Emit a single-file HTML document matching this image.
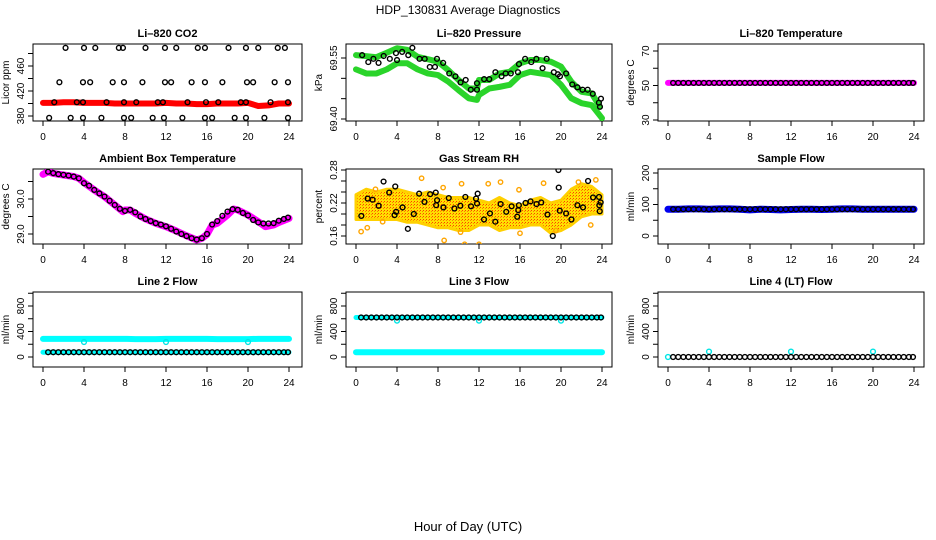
<!DOCTYPE html>
<html><head><meta charset="utf-8"><style>
html,body{margin:0;padding:0;background:#fff}
svg{display:block;font-family:"Liberation Sans",Arial,sans-serif}
</style></head><body>
<svg id="chart" width="936" height="540" viewBox="0 0 936 540" xmlns="http://www.w3.org/2000/svg">
<defs>
<pattern id="rhpat" width="3" height="3" patternUnits="userSpaceOnUse">
<rect width="3" height="3" fill="#ffe000"></rect><rect x="0" y="0" width="1" height="1" fill="#ff4000"></rect><rect x="2" y="1" width="1" height="1" fill="#ff8000"></rect>
</pattern>
</defs>
<text x="468" y="14" text-anchor="middle" font-size="12">HDP_130831  Average Diagnostics</text>
<text x="468" y="531" text-anchor="middle" font-size="13">Hour of Day (UTC)</text>
</svg>
<script>
const H48=[0.5,1,1.5,2,2.5,3,3.5,4,4.5,5,5.5,6,6.5,7,7.5,8,8.5,9,9.5,10,10.5,11,11.5,12,12.5,13,13.5,14,14.5,15,15.5,16,16.5,17,17.5,18,18.5,19,19.5,20,20.5,21,21.5,22,22.5,23,23.5,23.9];
const H25=[0,1,2,3,4,5,6,7,8,9,10,11,12,13,14,15,16,17,18,19,20,21,22,23,24];
// CO2
const co2Line=[401,401,402,402,401,401,401,400,400,400,400,400,401,400,400,399,399,400,400,400,401,396,397,400,400];
const co2TopX=[2.2,4,5.1,7.4,7.8,10,11.9,13,15.1,15.8,18.1,19.8,21,22.9,23.6];
const co2MidX=[1.6,3.9,4.6,6.8,7.9,9.7,11.9,12.5,14.5,15.8,17.5,19.9,20.5,22.6,23.9];
const co2LineX=[1.1,3.3,3.9,6.2,7.9,9.1,11.2,11.7,14.1,15.9,17.1,19.3,19.8,22.2,23.9];
const co2BotX=[0.6,2.7,3.9,5.7,7.9,8.6,10.7,11.8,13.6,15.8,16.5,18.7,19.8,21.6,23.9];
const co2Levels=[489,434,402,377];
// Pressure
const presAX=[0,2,4,5,6,7,8,9,10,11,11.8,12,13,14,15,16,17,18,19,20,21,22,23,23.8];
const presA=[69.557,69.552,69.574,69.570,69.553,69.547,69.541,69.520,69.496,69.475,69.475,69.496,69.496,69.512,69.516,69.537,69.545,69.545,69.541,69.529,69.492,69.467,69.463,69.430];
const presBX=[0,1,2,3,4,5,6,7,8,9,10,11,11.8,12,13,14,15,16,17,18,19,20,21,22,23,24];
const presB=[69.522,69.512,69.512,69.522,69.537,69.537,69.522,69.512,69.508,69.492,69.471,69.451,69.447,69.459,69.475,69.479,69.484,69.508,69.516,69.512,69.508,69.484,69.451,69.439,69.434,69.402];
const presCX=[0.6,1.2,1.7,2.2,2.7,3.3,3.9,4,4.5,5.1,5.5,6.2,6.7,7.2,7.7,7.9,8.5,9.1,9.7,10.2,10.7,11.2,11.8,11.8,12.5,13,13.6,14.2,14.6,15.1,15.8,15.9,16.5,17.1,17.6,18.2,18.6,19.3,19.7,19.9,20.5,21.1,21.6,22.1,22.6,23.1,23.7,23.8,23.9];
const presC=[69.557,69.54,69.548,69.538,69.555,69.548,69.562,69.545,69.565,69.557,69.575,69.548,69.548,69.528,69.528,69.548,69.538,69.512,69.505,69.49,69.496,69.472,69.472,69.488,69.498,69.498,69.515,69.505,69.512,69.512,69.515,69.535,69.548,69.54,69.548,69.525,69.548,69.515,69.51,69.505,69.512,69.485,69.478,69.472,69.472,69.462,69.44,69.43,69.45];
// Li-820 temperature
const liTempLine=[51.5,51.5,51.5,51.5,51.5,51.5,51.5,51.5,51.5,51.5,51.5,51.5,51.5,51.5,51.5,51.5,51.5,51.5,51.5,51.5,51.5,51.5,51.5,51.5,51.5];
// Ambient
const ambX=[0,0.5,1,2,3,3.5,4,5,6,7,7.8,8,8.5,9,10,11,12,13,14,15,15.5,16,16.5,17,18,18.6,19,20,21,21.7,22.5,23,24];
const amb=[30.705,30.78,30.73,30.686,30.64,30.59,30.47,30.257,30.067,29.83,29.64,29.686,29.686,29.59,29.43,29.305,29.21,29.086,28.95,28.83,28.876,28.99,29.257,29.305,29.543,29.714,29.686,29.543,29.352,29.21,29.257,29.33,29.447];
const ambC=[30.78,30.74,30.71,30.69,30.67,30.64,30.59,30.45,30.38,30.26,30.16,30.07,29.95,29.83,29.72,29.66,29.69,29.62,29.50,29.43,29.37,29.31,29.27,29.22,29.15,29.07,29.00,28.94,28.88,28.84,28.88,29.00,29.27,29.37,29.52,29.64,29.71,29.69,29.60,29.53,29.40,29.33,29.30,29.30,29.31,29.38,29.43,29.47];
// RH
const rhUp=[0.235,0.245,0.24,0.245,0.245,0.24,0.235,0.24,0.235,0.23,0.23,0.23,0.225,0.22,0.23,0.22,0.215,0.225,0.23,0.22,0.225,0.245,0.255,0.25,0.235];
const rhLo=[0.19,0.19,0.19,0.19,0.19,0.185,0.185,0.18,0.175,0.175,0.17,0.17,0.18,0.18,0.17,0.175,0.175,0.18,0.18,0.165,0.17,0.18,0.195,0.2,0.2];
const rhOutX=[0.5,1.1,1.9,2.6,6.4,8.5,8.6,10.2,10.3,10.6,12,12.9,14.1,15.9,16,18.3,19.5,21.7,22.9,23.4];
const rhOut=[0.168,0.175,0.245,0.186,0.265,0.248,0.152,0.167,0.255,0.145,0.145,0.255,0.258,0.244,0.165,0.256,0.17,0.258,0.18,0.262];
const rhX=[0.52,1.14,1.62,2.21,2.69,3.24,3.76,3.83,3.92,4.54,5.06,5.64,6.16,6.68,7.23,7.78,7.82,7.91,8.53,9.05,9.60,10.18,10.67,11.22,11.71,11.81,11.87,12.49,13.07,13.59,14.11,14.66,15.18,15.73,15.83,15.89,16.54,17.03,17.61,18.07,18.68,19.2,19.75,19.78,19.88,20.50,21.02,21.60,22.15,22.64,23.13,23.71,23.74,23.78,23.87];
const rhV=[0.1965,0.228,0.226,0.215,0.259,0.239,0.198,0.250,0.204,0.212,0.173,0.200,0.237,0.222,0.236,0.239,0.216,0.225,0.212,0.229,0.210,0.215,0.231,0.214,0.228,0.219,0.237,0.190,0.201,0.186,0.218,0.204,0.214,0.195,0.207,0.216,0.220,0.223,0.218,0.221,0.199,0.160,0.280,0.248,0.206,0.201,0.190,0.216,0.212,0.260,0.230,0.231,0.216,0.205,0.221];
// Flows
const sampleFlow=[85,85,86,86,85,86,86,85,83,85,84,83,84,85,85,84,85,86,86,85,85,85,85,85,85];
const sampleC=85;
const l2Hi=[285,285,285,285,285,285,285,285,285,280,280,280,285,285,285,285,285,280,280,280,280,285,285,285,285];
const l2Lo=75, l2DipX=[4,12,20], l2Dip=[235,235,235];
const l3Hi=620, l3Lo=75, l3DipX=[4,12,20], l3Dip=[570,570,570];
const l4Base=0, l4SpikeX=[4,12,20], l4Spike=[85,85,85];

const svg=document.getElementById('chart');
const NS='http://www.w3.org/2000/svg';
const cols=[{l:33,r:302,x0:43,x24:289},{l:346,r:612,x0:356,x24:602},{l:658,r:924,x0:668,x24:914}];
const rows=[{t:44,b:121},{t:169,b:244},{t:292,b:367}];
function mk(tag,at,parent){const e=document.createElementNS(NS,tag);for(const k in at)e.setAttribute(k,at[k]);(parent||svg).appendChild(e);return e;}

function panel(ci,ri,name,title,ylab,ticks,labels,v0,p0,v1,p1){
  const c=cols[ci],r=rows[ri];
  const g=mk('g',{});
  
  
  const xs=h=>c.x0+(c.x24-c.x0)*h/24;
  const ys=v=>p0+(v-v0)*(p1-p0)/(v1-v0);
  const t=mk('text',{x:(c.l+c.r)/2,y:r.t-7,'text-anchor':'middle','font-size':11,'font-weight':'bold'},g);
  t.textContent=title;
  
  
  const box=mk('rect',{x:c.l,y:r.t,width:c.r-c.l,height:r.b-r.t,fill:'none',stroke:'#000','stroke-width':1},g);
  
  
  const xa=mk('g',{},g);
  
  
  mk('line',{x1:xs(0),x2:xs(24),y1:r.b,y2:r.b,stroke:'#000'},xa);
  for(let h=0;h<=24;h+=4){
    mk('line',{x1:xs(h),x2:xs(h),y1:r.b,y2:r.b+5,stroke:'#000'},xa);
    const tl=mk('text',{x:xs(h),y:r.b+19,'text-anchor':'middle','font-size':10},xa);
    tl.textContent=h;
  }
  const ya=mk('g',{},g);
  
  
  mk('line',{x1:c.l,x2:c.l,y1:ys(ticks[0]),y2:ys(ticks[ticks.length-1]),stroke:'#000'},ya);
  ticks.forEach(v=>mk('line',{x1:c.l-5,x2:c.l,y1:ys(v),y2:ys(v),stroke:'#000'},ya));
  labels.forEach(v=>{const x=c.l-9,y=ys(v);const tl=mk('text',{x:x,y:y,'text-anchor':'middle','font-size':10,transform:`rotate(-90 ${x} ${y})`},ya);tl.textContent=v;});
  const yl=mk('text',{x:c.l-24,y:(r.t+r.b)/2,'text-anchor':'middle','font-size':10,transform:`rotate(-90 ${c.l-24} ${(r.t+r.b)/2})`},g);
  yl.textContent=ylab;
  
  
  const clip='clip'+ci+ri;
  const cp=mk('clipPath',{id:clip},g);mk('rect',{x:c.l,y:r.t,width:c.r-c.l,height:r.b-r.t},cp);
  const data=mk('g',{'clip-path':`url(#${clip})`},g);
  
  
  return {xs,ys,g:data};
}
function band(P,X,V,color,w,name){
  const pl=mk('polyline',{points:X.map((h,i)=>P.xs(h)+','+P.ys(V[i])).join(' '),fill:'none',stroke:color,'stroke-width':w,'stroke-linejoin':'round','stroke-linecap':'round'},P.g);
  
  
}
function circles(P,X,V,color,name,rad){
  X.forEach((h,i)=>{
    const c=mk('circle',{cx:P.xs(h),cy:P.ys(V[i]),r:rad||2.4,fill:'none',stroke:color,'stroke-width':1.4},P.g);
    
    
  });
}
const rep=(n,v)=>{const a=[];for(let i=0;i<n;i++)a.push(v);return a;};

let P=panel(0,0,'co2','Li\u2013820 CO2','Licor ppm',[380,400,420,440,460,480],[380,420,460],380,116,460,66);
band(P,H25,co2Line,'#ff0000',6,'co2-line');
circles(P,co2TopX,rep(co2TopX.length,co2Levels[0]),'#000','co2-point');
circles(P,co2MidX,rep(co2MidX.length,co2Levels[1]),'#000','co2-point');
circles(P,co2LineX,rep(co2LineX.length,co2Levels[2]),'#000','co2-point');
circles(P,co2BotX,rep(co2BotX.length,co2Levels[3]),'#000','co2-point');
P=panel(1,0,'pressure','Li\u2013820 Pressure','kPa',[69.40,69.45,69.50,69.55],['69.40','69.55'],69.40,119,69.55,58);
band(P,presAX,presA,'#2ad42a',6,'pressure-band-upper');
band(P,presBX,presB,'#2ad42a',6,'pressure-band-lower');
circles(P,presCX,presC,'#000','pressure-point');
P=panel(2,0,'li-temp','Li\u2013820 Temperature','degrees C',[30,40,50,60,70],[30,50,70],30,120,70,51);
band(P,H25,liTempLine,'#ff00ff',6,'li-temp-line');
circles(P,H48,rep(48,liTempLine[0]),'#000','li-temp-point');
P=panel(0,1,'ambient','Ambient Box Temperature','degrees C',[29.0,29.5,30.0,30.5],['29.0','30.0'],29.0,234,30.0,199);
band(P,ambX,amb,'#ff00ff',7,'ambient-line');
circles(P,H48,ambC,'#000','ambient-point');
P=panel(1,1,'rh','Gas Stream RH','percent',[0.16,0.18,0.20,0.22,0.24,0.26,0.28],['0.16','0.22','0.28'],0.16,236,0.28,170);
{const pts=H25.map((h,i)=>P.xs(h)+','+P.ys(rhUp[i])).concat(H25.slice().reverse().map((h,j)=>P.xs(h)+','+P.ys(rhLo[24-j])));
 const pg=mk('polygon',{points:pts.join(' '),fill:'url(#rhpat)',stroke:'#ffd000','stroke-width':3,'stroke-linejoin':'round'},P.g);
 
 }
circles(P,rhOutX,rhOut,'#ffa500','rh-outlier',2.2);
circles(P,rhX,rhV,'#000','rh-point');
P=panel(2,1,'sample-flow','Sample Flow','ml/min',[0,50,100,150,200],[0,100,200],0,236,200,173);
band(P,H25,sampleFlow,'#0000ee',7,'sample-flow-line');
circles(P,H48,rep(48,sampleC),'#000','sample-flow-point');
P=panel(0,2,'line2','Line 2 Flow','ml/min',[0,200,400,600,800,1000],[0,400,800],0,357,800,306);
band(P,H25,l2Hi,'#00ffff',6,'line2-high');
band(P,H25,rep(25,l2Lo),'#00ffff',5,'line2-low');
circles(P,l2DipX,l2Dip,'#00e5e5','line2-dip');
circles(P,H48,rep(48,l2Lo),'#000','line2-point');
P=panel(1,2,'line3','Line 3 Flow','ml/min',[0,200,400,600,800,1000],[0,400,800],0,357,800,306);
band(P,H25,rep(25,l3Hi),'#00ffff',5,'line3-high');
band(P,H25,rep(25,l3Lo),'#00ffff',6,'line3-low');
circles(P,l3DipX,l3Dip,'#00e5e5','line3-dip');
circles(P,H48,rep(48,l3Hi),'#000','line3-point');
P=panel(2,2,'line4','Line 4 (LT) Flow','ml/min',[0,200,400,600,800,1000],[0,400,800],0,357,800,306);
circles(P,[0],[l4Base],'#00e5e5','line4-start');
circles(P,l4SpikeX,l4Spike,'#00e5e5','line4-spike');
circles(P,H48,rep(48,l4Base),'#000','line4-point');
</script>
</body></html>
